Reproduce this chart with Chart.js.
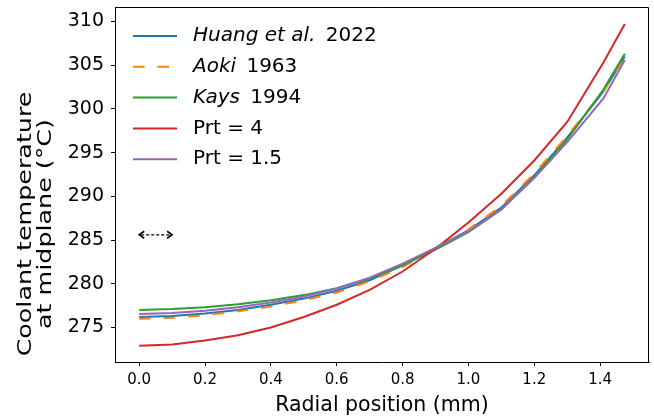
<!DOCTYPE html>
<html>
<head>
<meta charset="utf-8">
<script src="https://cdn.jsdelivr.net/npm/chart.js@4.4.1/dist/chart.umd.min.js"></script>
<style>
  html, body { margin: 0; padding: 0; background: #fff; }
  #wrap { width: 654px; height: 420px; position: relative; }
</style>
</head>
<body>
<div id="wrap"><canvas id="c"></canvas></div>
<script>
// Radiale Position (mm) und Kühlmitteltemperaturen (°C)
var radialPos = [0, 0.1, 0.2, 0.3, 0.4, 0.5, 0.6, 0.7, 0.8, 0.9, 1.0, 1.1, 1.2, 1.3, 1.41, 1.475];
var huang2022 = [276.2, 276.3, 276.6, 277.0, 277.6, 278.3, 279.2, 280.4, 282.1, 284.1, 286.1, 288.7, 292.4, 296.7, 302.0, 306.0];
var aoki1963  = [276.0, 276.1, 276.4, 276.85, 277.4, 278.1, 279.0, 280.3, 281.9, 284.0, 286.2, 288.9, 292.6, 296.9, 302.0, 306.0];
var kays1994  = [277.0, 277.1, 277.3, 277.65, 278.1, 278.7, 279.5, 280.6, 282.1, 283.9, 285.9, 288.5, 292.2, 296.5, 302.2, 306.3];
var prt4      = [272.9, 273.05, 273.5, 274.1, 275.0, 276.2, 277.6, 279.3, 281.4, 284.0, 287.0, 290.3, 294.1, 298.5, 305.3, 309.7];
var prt15     = [276.55, 276.65, 276.9, 277.3, 277.85, 278.55, 279.45, 280.7, 282.3, 284.1, 286.0, 288.5, 292.1, 296.2, 301.2, 305.6];

var xTicks = [0, 0.2, 0.4, 0.6, 0.8, 1.0, 1.2, 1.4];
var yTicks = [275, 280, 285, 290, 295, 300, 305, 310];
var xRange = [-0.0735, 1.5485];
var yRange = [271.05, 311.65];

// Doppelpfeil-Annotation (Datenkoordinaten)
var arrowX = [0, 0.1];
var arrowY = 285.6;

var seriesNames = [
  [{ t: 'Huang et al.', it: true }, { t: ' 2022' }],
  [{ t: 'Aoki', it: true }, { t: ' 1963' }],
  [{ t: 'Kays', it: true }, { t: ' 1994' }],
  [{ t: 'Prt = 4' }],
  [{ t: 'Prt = 1.5' }]
];
var seriesData = [huang2022, aoki1963, kays1994, prt4, prt15];
var seriesColors = ['#1f77b4', '#ff7f0e', '#2ca02c', '#d62728', '#9467bd'];
var seriesDash = [[], [11.5, 13], [], [], []];

var FONT = '"DejaVu Sans", sans-serif';

function pts(ys) {
  return ys.map(function (y, i) { return { x: radialPos[i], y: y }; });
}

var datasets = seriesData.map(function (d, i) {
  return {
    label: seriesNames[i].map(function (s) { return s.t; }).join(''),
    data: pts(d),
    borderColor: seriesColors[i],
    borderDash: seriesDash[i],
    borderWidth: 2,
    pointRadius: 0,
    tension: 0,
    fill: false,
    order: seriesData.length - i // matplotlib: letzte Linie oben
  };
});

// Rahmen, Achsentitel, Legende, Pfeil
var decor = {
  id: 'decor',
  afterDatasetsDraw: function (chart) {
    var ctx = chart.ctx;
    var a = chart.chartArea;
    var xs = chart.scales.x, ys = chart.scales.y;
    ctx.save();

    // Pfeil
    var x0 = xs.getPixelForValue(arrowX[0]), x1 = xs.getPixelForValue(arrowX[1]);
    var ya = ys.getPixelForValue(arrowY);
    ctx.strokeStyle = '#000';
    ctx.lineWidth = 1.3;
    ctx.setLineDash([3, 2]);
    ctx.beginPath(); ctx.moveTo(x0 + 2, ya); ctx.lineTo(x1 - 2, ya); ctx.stroke();
    ctx.setLineDash([]);
    ctx.lineWidth = 1.6;
    ctx.beginPath();
    ctx.moveTo(x0 + 5, ya - 3.5); ctx.lineTo(x0, ya); ctx.lineTo(x0 + 5, ya + 3.5);
    ctx.moveTo(x1 - 5, ya - 3.5); ctx.lineTo(x1, ya); ctx.lineTo(x1 - 5, ya + 3.5);
    ctx.stroke();

    // Legende
    var lx = a.left + 18, ly = a.top + 29, step = 30.8;
    ctx.textBaseline = 'middle';
    ctx.textAlign = 'left';
    seriesNames.forEach(function (parts, i) {
      var y = ly + i * step;
      ctx.strokeStyle = seriesColors[i];
      ctx.lineWidth = 2;
      ctx.setLineDash(seriesDash[i]);
      ctx.beginPath(); ctx.moveTo(lx, y); ctx.lineTo(lx + 44, y); ctx.stroke();
      ctx.setLineDash([]);
      var tx = lx + 60;
      ctx.fillStyle = '#000';
      parts.forEach(function (p) {
        ctx.font = (p.it ? 'italic ' : '') + '20px ' + FONT;
        ctx.fillText(p.t, tx, y);
        tx += ctx.measureText(p.t).width + (p.it ? 4 : 0);
      });
    });

    // Rahmen oben/rechts
    ctx.strokeStyle = '#000';
    ctx.lineWidth = 1;
    ctx.beginPath();
    ctx.moveTo(a.left, a.top + 0.5); ctx.lineTo(a.right - 0.5, a.top + 0.5); ctx.lineTo(a.right - 0.5, a.bottom);
    ctx.stroke();

    // x-Titel
    ctx.fillStyle = '#000';
    ctx.textAlign = 'center';
    ctx.font = '20.5px ' + FONT;
    ctx.fillText('Radial position (mm)', (a.left + a.right) / 2, 406);

    // y-Titel, zweizeilig, gedreht (im Original in Laufrichtung leicht gestreckt)
    var yc = 224;
    [['Coolant temperature', 26], ['at midplane (\u00B0C)', 46]].forEach(function (l) {
      ctx.save();
      ctx.translate(l[1], yc);
      ctx.rotate(-Math.PI / 2);
      ctx.scale(1.3, 1);
      ctx.font = '19.5px ' + FONT;
      ctx.fillText(l[0], 0, 0);
      ctx.restore();
    });
    ctx.restore();
  }
};

new Chart(document.getElementById('c'), {
  type: 'line',
  data: { datasets: datasets },
  plugins: [decor],
  options: {
    responsive: true,
    maintainAspectRatio: false,
    animation: false,
    layout: { padding: { top: 7, right: 5, left: 0, bottom: 0 } },
    plugins: { legend: { display: false }, tooltip: { enabled: false } },
    scales: {
      x: {
        type: 'linear',
        min: xRange[0], max: xRange[1],
        afterBuildTicks: function (s) { s.ticks = xTicks.map(function (v) { return { value: v }; }); },
        afterFit: function (s) { s.height = 58; s.paddingLeft = 0; s.paddingRight = 0; },
        ticks: {
          font: { family: FONT, size: 15 }, color: '#000', padding: 5, maxRotation: 0,
          callback: function (v) { return v.toFixed(1); }
        },
        grid: { drawOnChartArea: false, drawTicks: true, tickLength: 4, color: '#000' },
        border: { display: true, color: '#000', width: 1 }
      },
      y: {
        type: 'linear',
        min: yRange[0], max: yRange[1],
        afterBuildTicks: function (s) { s.ticks = yTicks.map(function (v) { return { value: v }; }); },
        afterFit: function (s) { s.width = 115; s.paddingTop = 0; s.paddingBottom = 0; },
        ticks: {
          font: { family: FONT, size: 19 }, color: '#000', padding: 7,
          callback: function (v) { return String(v); }
        },
        grid: { drawOnChartArea: false, drawTicks: true, tickLength: 4, color: '#000' },
        border: { display: true, color: '#000', width: 1 }
      }
    }
  }
});
</script>
</body>
</html>
